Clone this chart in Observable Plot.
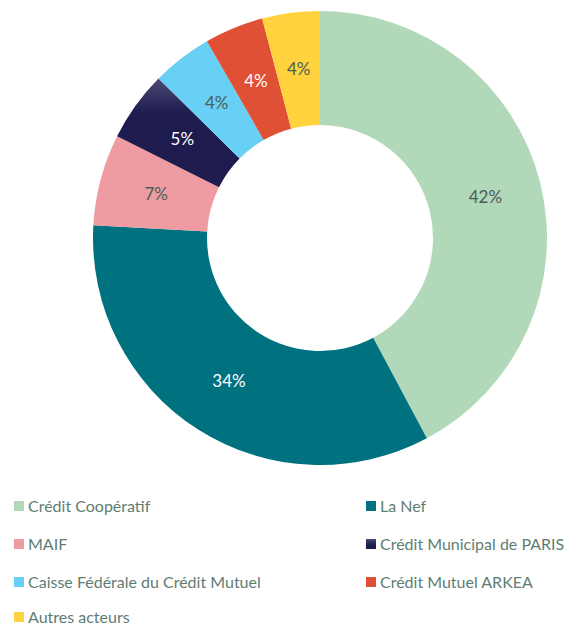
<!DOCTYPE html>
<html>
<head>
<meta charset="utf-8">
<script src="https://cdn.jsdelivr.net/npm/d3@7"></script>
<script src="https://cdn.jsdelivr.net/npm/@observablehq/plot@0.6"></script>
<style>
  html, body { margin: 0; padding: 0; background: #fff; overflow: hidden; }
  body { width: 584px; font-family: Lato, "Open Sans", sans-serif; }
  #legend { position: relative; height: 145px; }
  .item { position: absolute; display: flex; align-items: center; font-size: 16px; color: #5f7d73; white-space: nowrap; line-height: 1; }
  .sw { width: 10px; height: 10px; margin-right: 4px; flex: none; }
</style>
</head>
<body>
<div id="chart"></div>
<div id="legend"></div>
<script>
const categories = ["Crédit Coopératif", "La Nef", "MAIF", "Crédit Municipal de PARIS", "Caisse Fédérale du Crédit Mutuel", "Crédit Mutuel ARKEA", "Autres acteurs"];
const values = [42.2, 33.7, 6.5, 5.0, 4.3, 4.2, 4.1];
const labels = ["42%", "34%", "7%", "5%", "4%", "4%", "4%"];
const colors = ["#b0d8b9", "#00717f", "#ee9ba1", "#1e1b4f", "#68cff5", "#e05034", "#ffd23e"];
const labelColors = ["#4c5e58", "#ffffff", "#4c5e58", "#ffffff", "#4c5e58", "#ffffff", "#4c5e58"];

const W = 584, H = 478;
const CX = 320, CY = 238;
const R_OUT = 227, R_IN = 113;

const pie = d3.pie().sort(null).value(d => d.value)(
  categories.map((c, i) => ({category: c, value: values[i], label: labels[i], color: colors[i], lc: labelColors[i]}))
);
const rMid = (R_OUT + R_IN) / 2;
const slices = pie.map(p => {
  const a = (p.startAngle + p.endAngle) / 2;
  return {...p.data, startAngle: p.startAngle, endAngle: p.endAngle, lx: rMid * Math.sin(a), ly: rMid * Math.cos(a)};
});

function arcs(index, scales, values, dimensions, context) {
  const x0 = scales.x(0), y0 = scales.y(0);
  const k = scales.x(1) - scales.x(0);
  const g = d3.create("svg:g").attr("transform", `translate(${x0},${y0})`);
  const defs = g.append("defs");
  const grad = defs.append("linearGradient").attr("id", "navyGrad")
    .attr("gradientUnits", "userSpaceOnUse")
    .attr("x1", 0).attr("x2", 0)
    .attr("y1", -R_OUT * k * 0.7).attr("y2", -R_OUT * k * 0.55);
  grad.append("stop").attr("offset", 0).attr("stop-color", "#4b4a73");
  grad.append("stop").attr("offset", 1).attr("stop-color", "#1e1b4f");
  const arc = d3.arc().innerRadius(R_IN * k).outerRadius(R_OUT * k);
  g.selectAll("path").data(slices).join("path")
    .attr("d", d => arc(d))
    .attr("fill", (d, i) => i === 3 ? "url(#navyGrad)" : d.color);
  return g.node();
}

const plot = Plot.plot({
  width: W,
  height: H,
  margin: 0,
  x: {type: "linear", domain: [-CX, W - CX], range: [0, W], axis: null},
  y: {type: "linear", domain: [CY, CY - H], range: [0, H], axis: null},
  style: {background: "#fff"},
  marks: [
    arcs,
    Plot.text(slices, {
      x: "lx", y: "ly", text: "label", fill: "lc",
      fontSize: 17, fontFamily: "Lato, 'Open Sans', sans-serif", textAnchor: "middle"
    })
  ]
});
document.getElementById("chart").appendChild(plot);

const legend = document.getElementById("legend");
const positions = [[14, 28], [366, 28], [14, 66], [366, 66], [14, 104], [366, 104], [14, 139]];
categories.forEach((c, i) => {
  const d = document.createElement("div");
  d.className = "item";
  d.style.left = positions[i][0] + "px";
  d.style.top = (positions[i][1] - 8) + "px";
  d.style.height = "16px";
  const sw = document.createElement("span");
  sw.className = "sw";
  sw.style.background = i === 3 ? "linear-gradient(#4b4a73, #1e1b4f 60%)" : colors[i];
  const t = document.createElement("span");
  t.textContent = c;
  d.appendChild(sw); d.appendChild(t);
  legend.appendChild(d);
});
</script>
</body>
</html>
